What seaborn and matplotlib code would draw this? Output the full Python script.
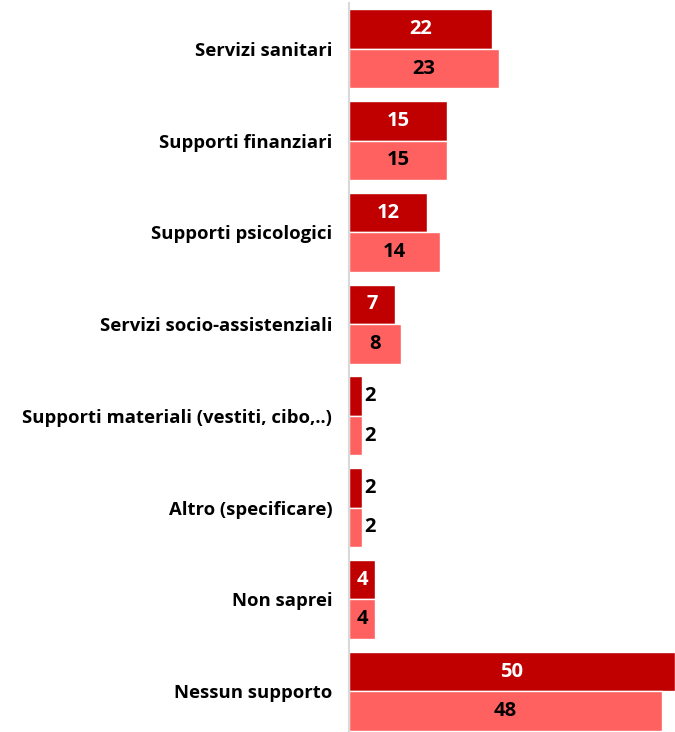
import pandas as pd
import matplotlib.pyplot as plt
import seaborn as sns

# Data
categories = ["Servizi sanitari", "Supporti finanziari", "Supporti psicologici",
              "Servizi socio-assistenziali", "Supporti materiali (vestiti, cibo,..)",
              "Altro (specificare)", "Non saprei", "Nessun supporto"]
series_names = ["Serie 1", "Serie 2"]
values_1 = [22, 15, 12, 7, 2, 2, 4, 50]
values_2 = [23, 15, 14, 8, 2, 2, 4, 48]
colors = ["#C00000", "#FF6161"]
label_colors = ["white", "black"]

df = pd.DataFrame({
    "categoria": categories * 2,
    "serie": [series_names[0]] * len(categories) + [series_names[1]] * len(categories),
    "valore": values_1 + values_2,
})

sns.set_style("white")
plt.rcParams['font.family'] = ['Open Sans', 'DejaVu Sans']

fig = plt.figure(figsize=(6.75, 7.32), dpi=100)
ax = fig.add_axes([0.517, -0.007, 0.483, 1.003])

sns.barplot(data=df, y="categoria", x="valore", hue="serie", order=categories,
            hue_order=series_names, palette=colors, saturation=1, orient="h",
            width=0.86, edgecolor="white", linewidth=1, legend=False, ax=ax)

ax.set_xlim(0, 50)
ax.set_xlabel("")
ax.set_ylabel("")
ax.set_xticks([])
ax.tick_params(axis="y", length=0, pad=12, labelcolor="black")
for lbl in ax.get_yticklabels():
    lbl.set_fontweight("bold")
    lbl.set_fontsize(13.3)

for side in ["top", "right", "bottom"]:
    ax.spines[side].set_visible(False)
ax.spines["left"].set_color("#D9D9D9")
ax.spines["left"].set_linewidth(1.5)

# value labels
for i, container in enumerate(ax.containers):
    for bar, v in zip(container, [values_1, values_2][i]):
        y = bar.get_y() + bar.get_height() / 2
        if v >= 4:
            ax.text(v / 2, y, str(v), ha="center", va="center", fontsize=14.5,
                    fontweight="bold", color=label_colors[i])
        else:
            ax.text(v + 0.3, y, str(v), ha="left", va="center", fontsize=14.5,
                    fontweight="bold", color="black")

fig.savefig("out.png", dpi=100)
